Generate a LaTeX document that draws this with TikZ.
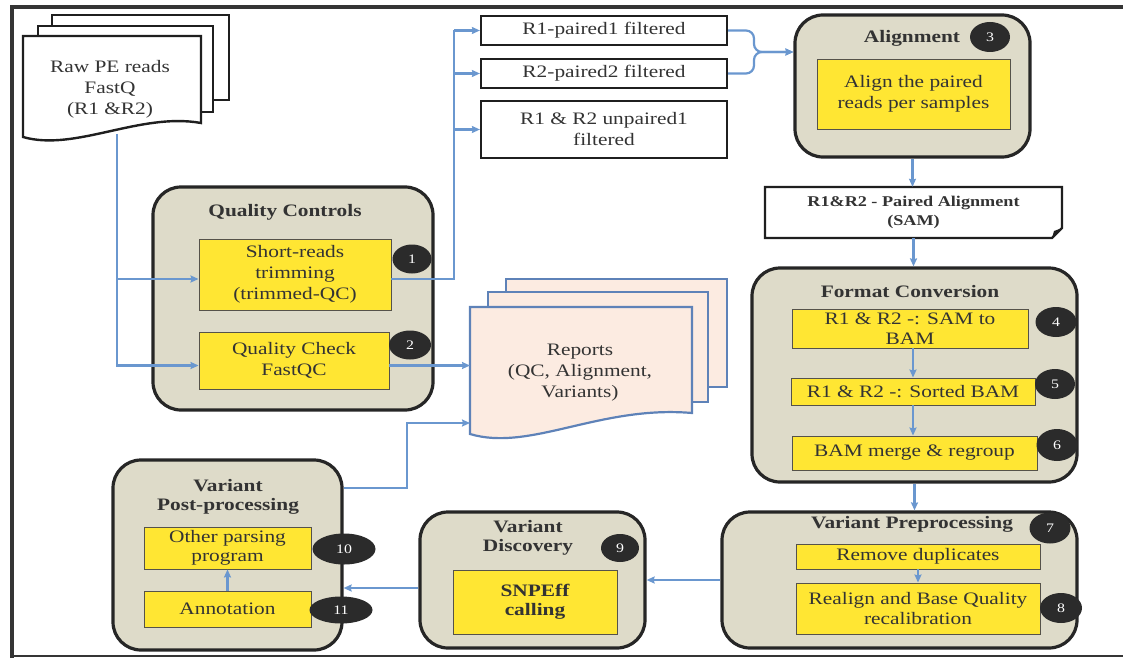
\documentclass[tikz,border=0pt]{standalone}
\usepackage{fontspec}
\setmainfont{Liberation Serif}[FakeStretch=1.22]
\usetikzlibrary{arrows.meta,shapes.geometric}

\definecolor{grpfill}{HTML}{DEDBC9}
\definecolor{grpline}{HTML}{262626}
\definecolor{yfill}{HTML}{FFE633}
\definecolor{yline}{HTML}{55524A}
\definecolor{connc}{HTML}{6A97CF}
\definecolor{repfill}{HTML}{FCEBE1}
\definecolor{repline}{HTML}{5E82B8}
\definecolor{badgefill}{HTML}{2B2B2B}
\definecolor{txt}{HTML}{333333}
\definecolor{framec}{HTML}{353535}

\newcommand{\dgbody}{\fontsize{17.5}{21}\selectfont}
\newcommand{\dgtight}{\fontsize{17.5}{19.5}\selectfont}
\newcommand{\dgsam}{\fontsize{14.9}{19}\selectfont\bfseries}
\newcommand{\dgbadge}{\fontsize{13}{15}\selectfont}

\begin{document}
\begin{tikzpicture}[x=1pt,y=-1pt,
  grp/.style={draw=grpline, line width=3.2pt, fill=grpfill, rounded corners=28pt, inner sep=0pt},
  ybox/.style={draw=yline, line width=0.9pt, fill=yfill, inner sep=0pt, align=center, font=\dgbody, text=txt},
  wbox/.style={draw=black!88, line width=2.2pt, fill=white, inner sep=0pt, align=center, font=\dgbody, text=txt},
  badge/.style={ellipse, fill=badgefill, text=white, inner sep=0pt, font=\dgbadge},
  ttl/.style={font=\dgbody\bfseries, text=txt, align=center, inner sep=0pt},
  conn/.style={draw=connc, line width=2.2pt, -{Stealth[length=8pt,width=7pt,inset=1pt]}},
  trunk/.style={draw=connc, line width=2.2pt},
  doc/.style={draw=black!88, line width=2.4pt, fill=white},
  rep/.style={draw=repline, line width=2.2pt, fill=repfill},
]
\useasboundingbox (0,0) rectangle (1123,658);

% outer frame
\draw[framec, line width=4pt] (12,658) -- (12,7) -- (1123,7);
\draw[framec, line width=2pt] (12,656) -- (1123,656);

% raw reads document stack
\draw[doc] (52,15) rectangle (229,100);
\draw[doc] (38,26) rectangle (213,112);
\draw[doc] (23,36) -- (201,36) -- (201,123) .. controls (140,112) and (75,152) .. (23,137) -- cycle;
\node[font=\dgbody, text=txt, align=center] (raw) at (110,89) {Raw PE reads\\FastQ\\(R1 \&R2)};
\coordinate (rawout) at (117,134);

% quality controls
\node[grp, minimum width=280, minimum height=223] (qcg) at (293,298.5) {};
\node[ttl] at (285,212) {Quality Controls};
\node[ybox, minimum width=192, minimum height=71] (sr) at (295,274.5) {Short-reads\\trimming\\(trimmed-QC)};
\node[ybox, minimum width=190, minimum height=57] (qc) at (294,360.5) {Quality Check\\FastQC};

% filtered read files
\node[wbox, minimum width=246, minimum height=29] (r1) at (604,30.5) {R1-paired1 filtered};
\node[wbox, minimum width=246, minimum height=29] (r2) at (604,73.5) {R2-paired2 filtered};
\node[wbox, minimum width=246, minimum height=57] (up) at (604,129.5) {R1 \& R2 unpaired1\\filtered};

% alignment
\node[grp, minimum width=235, minimum height=142] (alg) at (912.5,86) {};
\node[ttl] at (912,38) {Alignment};
\node[ybox, minimum width=193, minimum height=70] (alb) at (913.5,94) {Align the paired\\reads per samples};

% SAM output document
\draw[doc] (765,187) -- (1062,187) -- (1062,228) -- (1052,238) -- (765,238) -- cycle;
\fill[black!88] (1052,238) -- (1054,231) -- (1062,228) -- cycle;
\node[font=\dgsam, text=txt, align=center, minimum width=297, minimum height=51, inner sep=0pt] (sam) at (913.5,212.5) {R1\&R2 - Paired Alignment\\(SAM)};

% format conversion
\node[grp, minimum width=325, minimum height=214] (fcg) at (914.5,375) {};
\node[ttl] at (910,292) {Format Conversion};
\node[ybox, font=\dgtight, minimum width=236, minimum height=39] (s2b) at (910,328.5) {R1 \& R2 -: SAM to\\BAM};
\node[ybox, minimum width=244, minimum height=27] (sb) at (913,391.5) {R1 \& R2 -: Sorted BAM};
\node[ybox, minimum width=245, minimum height=34] (bm) at (914.5,453) {BAM merge \& regroup};

% variant preprocessing
\node[grp, minimum width=355, minimum height=136] (vpg) at (899.5,580) {};
\node[ttl] at (912,524) {Variant Preprocessing};
\node[ybox, minimum width=244, minimum height=25] (rd) at (918,556.5) {Remove duplicates};
\node[ybox, font=\dgtight, minimum width=244, minimum height=51] (ra) at (918,608.5) {Realign and Base Quality\\recalibration};

% variant discovery
\node[grp, minimum width=225, minimum height=136] (vdg) at (532.5,580) {};
\node[ttl, font=\dgtight\bfseries] at (528,538) {Variant\\Discovery};
\node[ybox, font=\dgtight\bfseries, minimum width=164, minimum height=64] (snp) at (535,602) {SNPEff\\calling};

% variant post-processing
\node[grp, minimum width=229, minimum height=190] (ppg) at (227.5,555) {};
\node[ttl, font=\dgtight\bfseries] at (228,497) {Variant\\Post-processing};
\node[ybox, font=\dgtight, minimum width=167, minimum height=42] (op) at (227.5,548) {Other parsing\\program};
\node[ybox, minimum width=167, minimum height=36] (an) at (227.5,609) {Annotation};

% reports document stack
\draw[rep] (506,279) rectangle (727,387);
\draw[rep] (488,292) rectangle (708,402);
\draw[rep] (470,307) -- (692,307) -- (692,413) .. controls (600,405) and (530,452) .. (470,434) -- cycle;
\node[font=\dgbody, text=txt, align=center] (rep) at (580,373) {Reports\\(QC, Alignment,\\Variants)};
\coordinate (repin1) at (470,366);
\coordinate (repin2) at (470,423);

% step badges
\node[badge, minimum width=39, minimum height=29] (b1) at (412,259) {1};
\node[badge, minimum width=42, minimum height=29] (b2) at (410,345) {2};
\node[badge, minimum width=40, minimum height=30] (b3) at (990,37) {3};
\node[badge, minimum width=41, minimum height=30] (b4) at (1056,322) {4};
\node[badge, minimum width=40, minimum height=30] (b5) at (1055,384) {5};
\node[badge, minimum width=41, minimum height=32] (b6) at (1057,445) {6};
\node[badge, minimum width=41, minimum height=31] (b7) at (1050,528) {7};
\node[badge, minimum width=42, minimum height=30] (b8) at (1061,608) {8};
\node[badge, minimum width=38, minimum height=28] (b9) at (620,548) {9};
\node[badge, minimum width=63, minimum height=31] (b10) at (344,549) {10};
\node[badge, minimum width=63, minimum height=27] (b11) at (341,610) {11};

% connectors
\draw[conn] (rawout) |- ([yshift=-4.5pt]sr.west);
\draw[conn] (rawout) |- ([yshift=-5pt]qc.west);
\draw[trunk] ([yshift=-4.5pt]sr.east) -| ([xshift=-26pt]r1.west);
\draw[conn] ([xshift=-26pt]r1.west) -- (r1.west);
\draw[conn] ([xshift=-26pt]r2.west) -- (r2.west);
\draw[conn] ([xshift=-26pt]up.west) -- (up.west);
\coordinate (brc) at (754,52);
\draw[conn, rounded corners=8pt] (r1.east) -| (brc) -- (brc -| alg.west);
\draw[conn, rounded corners=8pt] (r2.east) -| (brc) -- (brc -| alg.west);
\draw[conn] (alg.south) -- (alg.south |- sam.north);
\draw[conn] (sam.south) -- (sam.south |- fcg.north);
\draw[conn] (s2b.south -| sb.north) -- (sb.north);
\draw[conn] (sb.south) -- (sb.south |- bm.north);
\draw[conn] (fcg.south) -- (fcg.south |- vpg.north);
\draw[conn] (rd.south) -- (ra.north);
\draw[conn] (vpg.west) -- (vpg.west -| vdg.east);
\coordinate (vdout) at ([yshift=-8pt]vdg.west);
\draw[conn] (vdout) -- (vdout -| ppg.east);
\draw[conn] (an.north) -- (op.south);
\coordinate (ppout) at ([yshift=67pt]ppg.east);
\draw[conn] (ppout) -| ([xshift=-63pt]repin2) -- (repin2);
\coordinate (qcout) at ([yshift=-5pt]qc.east);
\draw[conn] (qcout) -- (qcout -| repin1);
\end{tikzpicture}
\end{document}
